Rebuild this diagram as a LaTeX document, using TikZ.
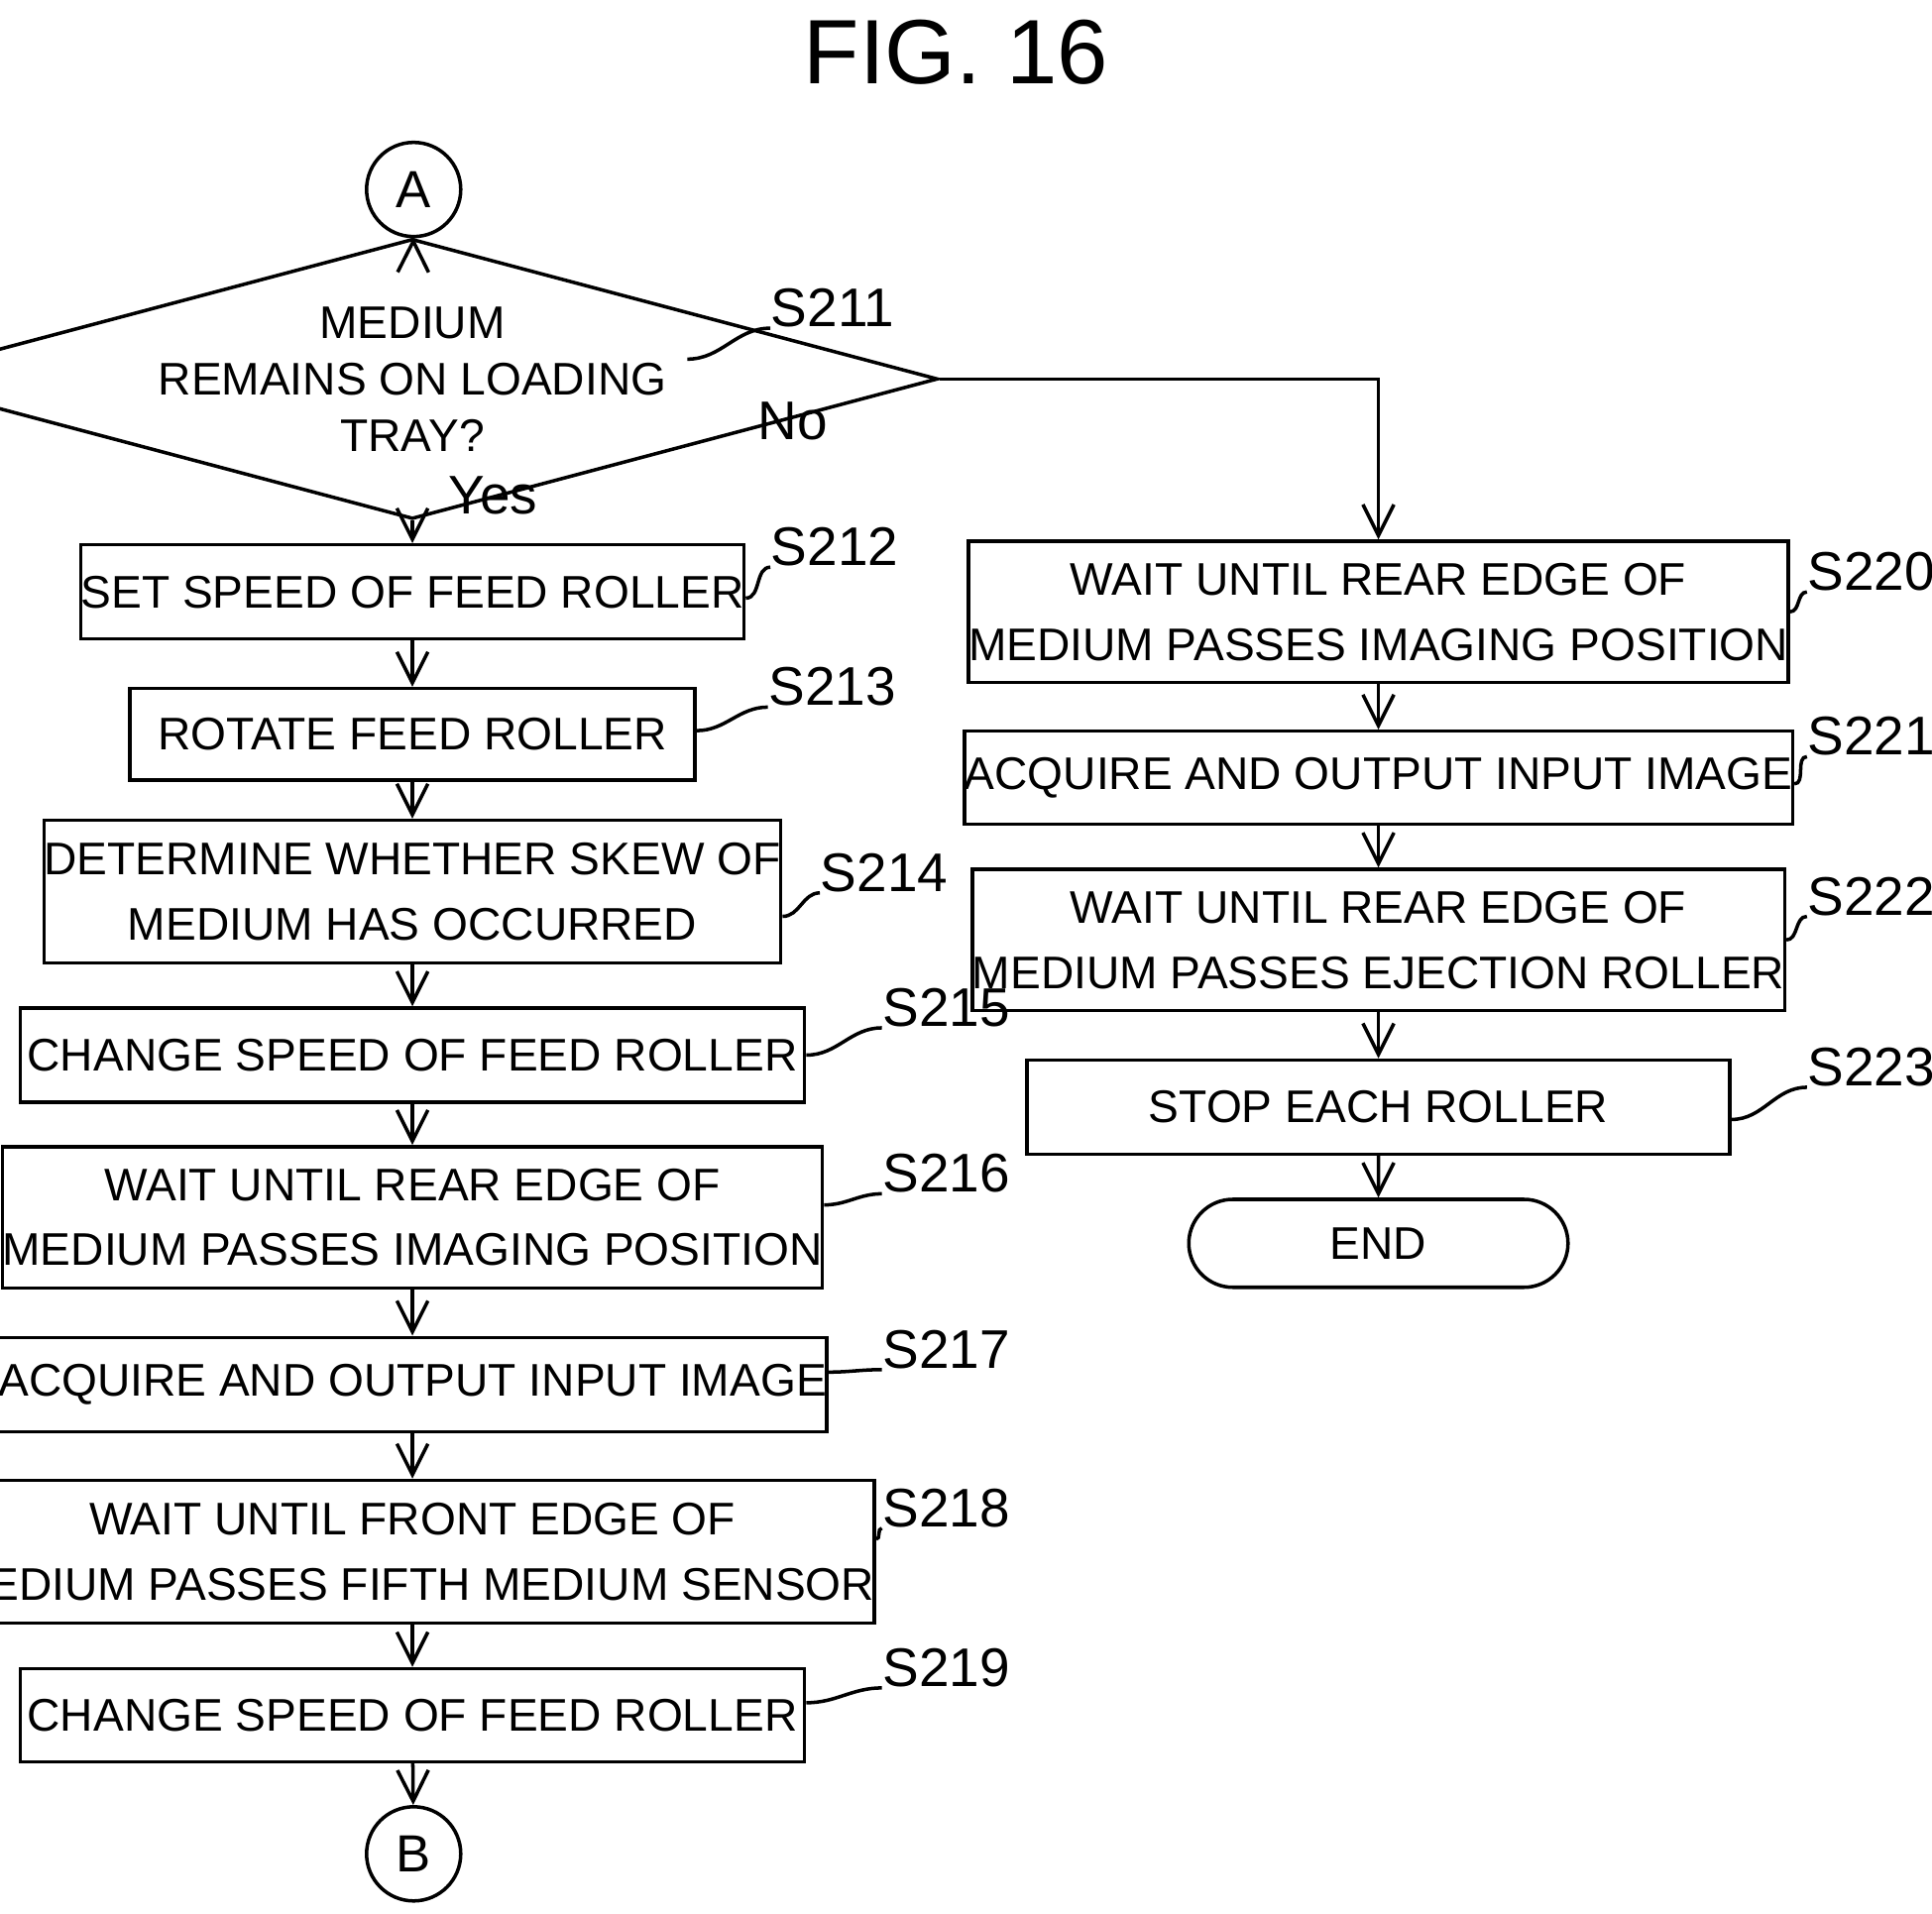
\documentclass[tikz,border=0pt]{standalone}
\usepackage{fontspec}
\setmainfont{Liberation Sans}
\usetikzlibrary{shapes.geometric,shapes.misc,arrows.meta}
\tikzset{
  box/.style={draw, thick, minimum height=#1, align=center, inner sep=0pt, font=\fontsize{10.5}{15}\selectfont},
  con/.style={draw, thick, circle, minimum size=0.76cm, inner sep=0pt, font=\fontsize{12}{14}\selectfont},
  slabel/.style={font=\fontsize{12.5}{14}\selectfont, anchor=south west, inner sep=0pt},
  flow/.style={thick, -{Straight Barb[length=2.5mm,width=2.5mm]}},
  squig/.style={thick}
}
\begin{document}
\begin{tikzpicture}[x=0.01cm,y=-0.01cm]
  \useasboundingbox (0,0) rectangle (1560,1545);
  \node[font=\fontsize{21}{24}\selectfont] (title) at (772,42) {FIG. 16};
  % left column
  \node[con] (A) at (334,153) {A};
  \node[draw, thick, diamond, aspect=3.75, minimum width=5.69cm, minimum height=1.52cm, inner sep=0pt, align=center, font=\fontsize{10.5}{13}\selectfont] (d211) at (333,306) {MEDIUM\\REMAINS ON LOADING\\TRAY?};
  \node[box=0.76cm, minimum width=4.56cm] (b212) at (333,478) {SET SPEED OF FEED ROLLER};
  \node[box=0.74cm, minimum width=4.56cm] (b213) at (333,593) {ROTATE FEED ROLLER};
  \node[box=1.15cm, minimum width=5.32cm] (b214) at (333,720) {DETERMINE WHETHER SKEW OF\\MEDIUM HAS OCCURRED};
  \node[box=0.76cm, minimum width=6.33cm] (b215) at (333,852) {CHANGE SPEED OF FEED ROLLER};
  \node[box=1.14cm, minimum width=6.33cm] (b216) at (333,983) {WAIT UNTIL REAR EDGE OF\\MEDIUM PASSES IMAGING POSITION};
  \node[box=0.76cm, minimum width=6.33cm] (b217) at (333,1118) {ACQUIRE AND OUTPUT INPUT IMAGE};
  \node[box=1.15cm, minimum width=6.33cm] (b218) at (333,1253) {WAIT UNTIL FRONT EDGE OF\\MEDIUM PASSES FIFTH MEDIUM SENSOR};
  \node[box=0.75cm, minimum width=6.33cm] (b219) at (333,1385) {CHANGE SPEED OF FEED ROLLER};
  \node[con] (B) at (334,1497) {B};
  % right column
  \node[box=1.14cm, minimum width=5.67cm] (b220) at (1113,494) {WAIT UNTIL REAR EDGE OF\\MEDIUM PASSES IMAGING POSITION};
  \node[box=0.75cm, minimum width=5.67cm] (b221) at (1113,628) {ACQUIRE AND OUTPUT INPUT IMAGE};
  \node[box=1.14cm, minimum width=5.67cm] (b222) at (1113,759) {WAIT UNTIL REAR EDGE OF\\MEDIUM PASSES EJECTION ROLLER};
  \node[box=0.76cm, minimum width=5.67cm] (b223) at (1113,894) {STOP EACH ROLLER};
  \node[draw, thick, rounded rectangle, minimum width=3.06cm, minimum height=0.71cm, inner sep=0pt, font=\fontsize{10.5}{13}\selectfont] (end) at (1113,1004) {END};
  \coordinate (turn) at (1113,306);
  % arrows
  \draw[flow] (A) -- (d211);
  \draw[flow] (d211) -- (b212);
  \draw[flow] (b212) -- (b213);
  \draw[flow] (b213) -- (b214);
  \draw[flow] (b214) -- (b215);
  \draw[flow] (b215) -- (b216);
  \draw[flow] (b216) -- (b217);
  \draw[flow] (b217) -- (b218);
  \draw[flow] (b218) -- (b219);
  \draw[flow] (b219) -- (B);
  \draw[flow] (d211.east) -- (turn) -- (b220);
  \draw[flow] (b220) -- (b221);
  \draw[flow] (b221) -- (b222);
  \draw[flow] (b222) -- (b223);
  \draw[flow] (b223) -- (end);
  \node[font=\fontsize{12.5}{14}\selectfont] (no) at (640,340) {No};
  \node[font=\fontsize{12.5}{14}\selectfont] (yes) at (398,400) {Yes};
  % step labels
  \node[slabel] (l211) at (622,265) {S211};
  \node[slabel] (l212) at (622,458) {S212};
  \node[slabel] (l213) at (620,571) {S213};
  \node[slabel] (l214) at (662,721) {S214};
  \node[slabel] (l215) at (712,830) {S215};
  \node[slabel] (l216) at (712,964) {S216};
  \node[slabel] (l217) at (712,1106) {S217};
  \node[slabel] (l218) at (712,1234) {S218};
  \node[slabel] (l219) at (712,1363) {S219};
  \node[slabel] (l220) at (1459,478) {S220};
  \node[slabel] (l221) at (1459,611) {S221};
  \node[slabel] (l222) at (1459,740) {S222};
  \node[slabel] (l223) at (1459,878) {S223};
  \draw[squig] (555,290) to[out=0,in=180] (l211.south west);
  \draw[squig] (b212.east) ++(0,5) to[out=0,in=180] (l212.south west);
  \draw[squig] (b213.east) ++(0,-3) to[out=0,in=180] (l213.south west);
  \draw[squig] (b214.east) ++(0,20) to[out=0,in=180] (l214.south west);
  \draw[squig] (b215.east) to[out=0,in=180] (l215.south west);
  \draw[squig] (b216.east) ++(0,-10) to[out=0,in=180] (l216.south west);
  \draw[squig] (b217.east) ++(0,-10) to[out=0,in=180] (l217.south west);
  \draw[squig] (b218.east) ++(0,-10) to[out=0,in=180] (l218.south west);
  \draw[squig] (b219.east) ++(0,-10) to[out=0,in=180] (l219.south west);
  \draw[squig] (b220.east) to[out=0,in=180] (l220.south west);
  \draw[squig] (b221.east) ++(0,5) to[out=0,in=180] (l221.south west);
  \draw[squig] (b222.east) to[out=0,in=180] (l222.south west);
  \draw[squig] (b223.east) ++(0,10) to[out=0,in=180] (l223.south west);
\end{tikzpicture}
\end{document}
